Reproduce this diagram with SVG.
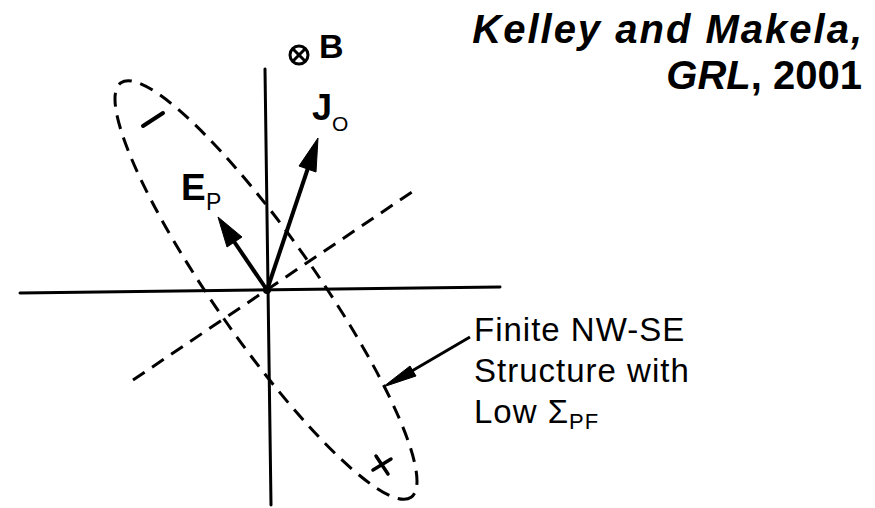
<svg xmlns="http://www.w3.org/2000/svg" width="875" height="508" viewBox="0 0 875 508">
<style>
.axis{stroke:#000;stroke-width:3;fill:none;stroke-linecap:round}
.dash{stroke:#000;stroke-width:3;fill:none;stroke-dasharray:14 9}
.vec{stroke:#000;stroke-width:4;fill:none}
.head{fill:#000;stroke:#000;stroke-width:1;stroke-linejoin:round}
.sym{font-family:"Liberation Sans",Arial,sans-serif;font-weight:bold;fill:#000}
.sub{font-family:"Liberation Sans",Arial,sans-serif;fill:#000}
.lbl{font-family:"Liberation Sans",Arial,sans-serif;fill:#000;font-size:33px;letter-spacing:1px}
.title{font-family:"Liberation Sans",Arial,sans-serif;font-weight:bold;fill:#000;font-size:40px}
</style>
<rect width="875" height="508" fill="#fff"/>
<g id="title">
<text class="title" x="864" y="43" text-anchor="end" font-style="italic" letter-spacing="2">Kelley and Makela,</text>
<text class="title" x="862" y="89" text-anchor="end"><tspan font-style="italic">GRL</tspan>, 2001</text>
</g>
<g id="axes">
<line class="axis" x1="20" y1="293" x2="500" y2="287"/>
<line class="axis" x1="265" y1="69" x2="271" y2="505"/>
<line class="dash" x1="133" y1="380" x2="415" y2="190"/>
</g>
<g id="structure">
<ellipse class="dash" cx="266" cy="290" rx="253" ry="51" transform="rotate(55 266 290)"/>
<line x1="143" y1="126" x2="163" y2="113" stroke="#000" stroke-width="4" stroke-linecap="round"/>
<line x1="373" y1="470" x2="391" y2="459" stroke="#000" stroke-width="3.5" stroke-linecap="round"/>
<line x1="376" y1="456" x2="388" y2="474" stroke="#000" stroke-width="3.5" stroke-linecap="round"/>
</g>
<g id="B">
<circle cx="299" cy="55" r="9" fill="none" stroke="#000" stroke-width="3"/>
<line x1="293" y1="49" x2="305" y2="61" stroke="#000" stroke-width="3"/>
<line x1="305" y1="49" x2="293" y2="61" stroke="#000" stroke-width="3"/>
<text class="sym" x="319" y="58" font-size="34">B</text>
</g>
<g id="J0">
<line class="vec" x1="267" y1="290" x2="308" y2="168"/>
<polygon class="head" points="318,138 316,172 299,166"/>
<text class="sym" x="312" y="120" font-size="36">J</text>
<text class="sub" x="332" y="131" font-size="21">O</text>
</g>
<g id="EP">
<line class="vec" x1="267" y1="290" x2="233" y2="240"/>
<polygon class="head" points="218,217 242,237 227,247"/>
<text class="sym" x="181" y="200" font-size="37">E</text>
<text class="sub" x="206" y="210" font-size="23">P</text>
</g>
<circle cx="267" cy="290" r="4" fill="#000"/>
<g id="label">
<text class="lbl" x="474" y="341">Finite NW-SE</text>
<text class="lbl" x="474" y="382">Structure with</text>
<text class="lbl" x="474" y="423">Low Σ<tspan font-size="22" dy="6">PF</tspan></text>
</g>
<g id="connectors">
<line x1="470" y1="337" x2="405" y2="375" stroke="#000" stroke-width="3"/>
<polygon class="head" points="383,387 410,366 416,376"/>
</g>
</svg>
